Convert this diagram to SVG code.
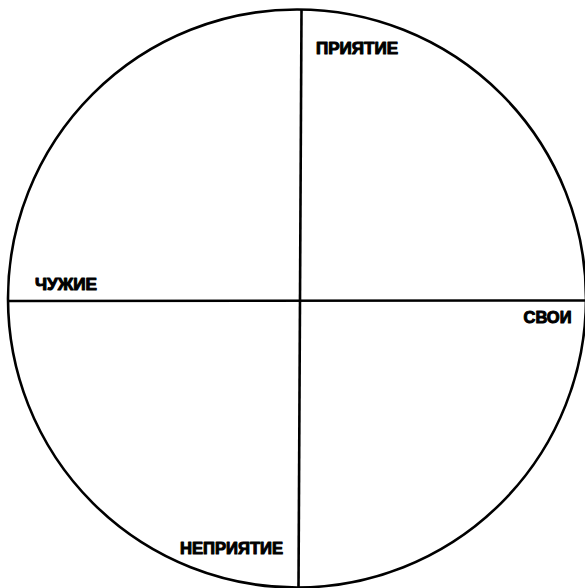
<svg xmlns="http://www.w3.org/2000/svg" width="585" height="588" viewBox="0 0 585 588">
<style>
.lbl{font-family:"Liberation Sans",Arial,sans-serif;font-weight:bold;font-size:16px;fill:#000;stroke:#000;stroke-width:1;stroke-linejoin:round}
.ln{stroke:#000;stroke-width:2.6;fill:none}
</style>
<rect width="585" height="588" fill="#fff"/>
<g id="circle"><circle class="ln" cx="297" cy="298.5" r="289"/></g>
<g id="connectors">
<line class="ln" x1="301.5" y1="10" x2="298.5" y2="588"/>
<line class="ln" x1="8" y1="301" x2="590" y2="300.5"/>
</g>
<g id="priyatie"><text class="lbl" x="316" y="53.5" textLength="82" lengthAdjust="spacingAndGlyphs">ПРИЯТИЕ</text></g>
<g id="chuzhie"><text class="lbl" x="35" y="290" textLength="62" lengthAdjust="spacingAndGlyphs">ЧУЖИЕ</text></g>
<g id="svoi"><text class="lbl" x="523.5" y="322.7" textLength="48" lengthAdjust="spacingAndGlyphs">СВОИ</text></g>
<g id="nepriyatie"><text class="lbl" x="180" y="553.5" textLength="103" lengthAdjust="spacingAndGlyphs">НЕПРИЯТИЕ</text></g>
</svg>
